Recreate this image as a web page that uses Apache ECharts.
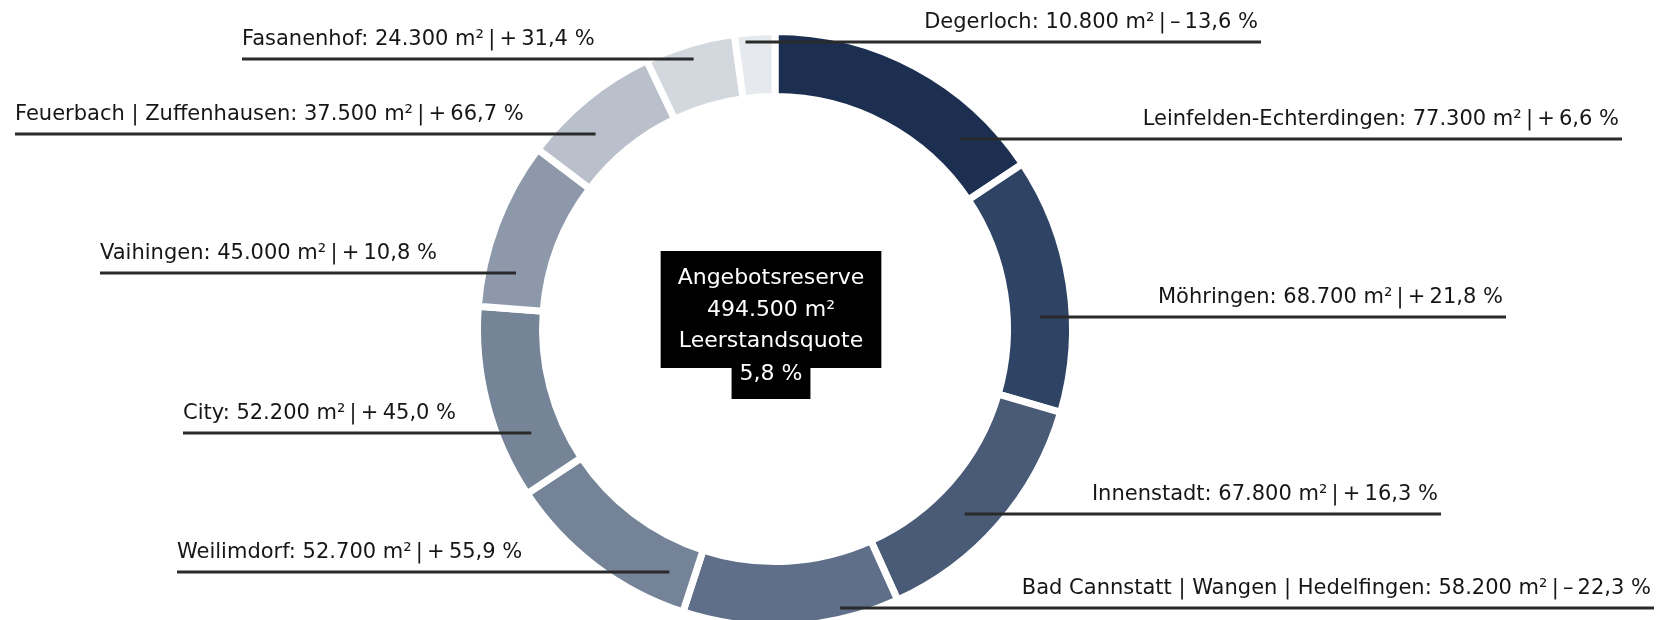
<!DOCTYPE html>
<html><head><meta charset="utf-8">
<script src="https://cdn.jsdelivr.net/npm/echarts@6/dist/echarts.min.js"></script>
<style>html,body{margin:0;padding:0;background:#fff}#c{width:1659px;height:620px}</style>
</head><body><div id="c"></div>
<script>
// ---- data (clockwise from 12 o'clock) ----
const districts = ['Leinfelden-Echterdingen', 'Möhringen', 'Innenstadt', 'Bad Cannstatt | Wangen | Hedelfingen', 'Weilimdorf', 'City', 'Vaihingen', 'Feuerbach | Zuffenhausen', 'Fasanenhof', 'Degerloch'];
const reserveM2 = [77300, 68700, 67800, 58200, 52700, 52200, 45000, 37500, 24300, 10800];
const changePct = [6.6, 21.8, 16.3, -22.3, 55.9, 45.0, 10.8, 66.7, 31.4, -13.6];
const centerLines = ['Angebotsreserve', '494.500 m²', 'Leerstandsquote'];
const vacancyText = '5,8 %';

// ---- styles / layout ----
const sliceColors = ['#1c2f50', '#2f4464', '#4a5b77', '#5f6f89', '#748397', '#768498', '#8d99aa', '#b9c0cb', '#d3d8df', '#e6e9ed'];
const CX = 775, CY = 329, R_IN = 236, R_OUT = 294, GAP = 7;
const R_MID = (R_IN + R_OUT) / 2;
// label guide placement: y of the guide line, x of the outer text edge
const labelGuides = [
  { y: 139, x: 1619 }, { y: 317, x: 1503 }, { y: 514, x: 1438 }, { y: 608, x: 1651 },
  { y: 572, x: 177 }, { y: 433, x: 183 }, { y: 273, x: 100 }, { y: 134, x: 15 },
  { y: 59, x: 242 }, { y: 42, x: 1258 }
];

function fmtThousands(v) { return String(v).replace(/\B(?=(\d{3})+(?!\d))/g, '.'); }
function fmtPct(v) { return (v < 0 ? '–' : '+') + '\u2009' + Math.abs(v).toFixed(1).replace('.', ','); }

const total = reserveM2.reduce((a, b) => a + b, 0);
const segStart = [], segEnd = [];
(function () { let acc = 0; reserveM2.forEach(v => { segStart.push(acc / total * 2 * Math.PI); acc += v; segEnd.push(acc / total * 2 * Math.PI); }); })();

function guideLayout(params) {
  const i = params.dataIndex;
  const g = labelGuides[i];
  const right = g.x > CX;
  const dy = g.y - CY;
  const ady = Math.abs(dy);
  const r = ady < R_MID - 10 ? R_MID : (ady + R_OUT) / 2;
  const mid = (segStart[i] + segEnd[i]) / 2;
  const side = Math.sin(mid) < 0 ? -1 : 1;
  let dx = side * Math.sqrt(Math.max(r * r - dy * dy, 0));
  // keep the guide's inner end inside its own slice
  let th = Math.atan2(dx, -dy); if (th < 0) th += 2 * Math.PI;
  const m = 2 * Math.PI / 180;
  const lo = segStart[i] + m, hi = segEnd[i] - m;
  if (th < lo || th > hi) { th = Math.min(Math.max(th, lo), hi); dx = -dy * Math.tan(th); }
  const xi = CX + dx;
  const xo = right ? g.x + 3 : g.x;
  return {
    x: g.x, y: g.y - 9,
    align: right ? 'right' : 'left', verticalAlign: 'bottom',
    labelLinePoints: [[xi, g.y], [(xi + xo) / 2, g.y], [xo, g.y]]
  };
}

const ringCommon = {
  type: 'pie', center: [CX, CY], radius: [R_IN - GAP / 2, R_OUT + GAP / 2],
  startAngle: 90, clockwise: true, silent: true, avoidLabelOverlap: false
};

const chart = echarts.init(document.getElementById('c'));
chart.setOption({
  backgroundColor: '#fff',
  animation: false,
  series: [
    Object.assign({}, ringCommon, {
      name: 'ring', z: 1,
      itemStyle: { borderColor: '#fff', borderWidth: GAP },
      label: { show: false }, labelLine: { show: false },
      data: districts.map((n, i) => ({ name: n, value: reserveM2[i], itemStyle: { color: sliceColors[i] } }))
    }),
    Object.assign({}, ringCommon, {
      name: 'labels', z: 3,
      itemStyle: { color: 'rgba(0,0,0,0)', borderWidth: 0 },
      label: {
        show: true, position: 'outside', color: '#161616',
        fontFamily: '"DejaVu Sans"', fontSize: 21,
        formatter: p => p.name + ': ' + fmtThousands(p.value) + ' m²\u2009|\u2009' + fmtPct(changePct[p.dataIndex]) + ' %'
      },
      labelLine: { show: true, length: 10, length2: 10, lineStyle: { color: '#2a2a2a', width: 3 } },
      labelLayout: guideLayout,
      data: districts.map((n, i) => ({ name: n, value: reserveM2[i] }))
    })
  ],
  graphic: [
    {
      type: 'text', x: 771, y: 251, z: 10,
      style: {
        text: centerLines.join('\n'), fill: '#fff', font: '22px "DejaVu Sans"',
        align: 'center', verticalAlign: 'top', lineHeight: 31.5,
        backgroundColor: '#000', padding: [12, 17, 10.5, 17]
      }
    },
    {
      type: 'text', x: 771, y: 353, z: 11,
      style: {
        text: vacancyText, fill: '#fff', font: '22px "DejaVu Sans"',
        align: 'center', verticalAlign: 'top', lineHeight: 31.5,
        backgroundColor: '#000', padding: [6, 8, 8.5, 8]
      }
    }
  ]
});
</script></body></html>
